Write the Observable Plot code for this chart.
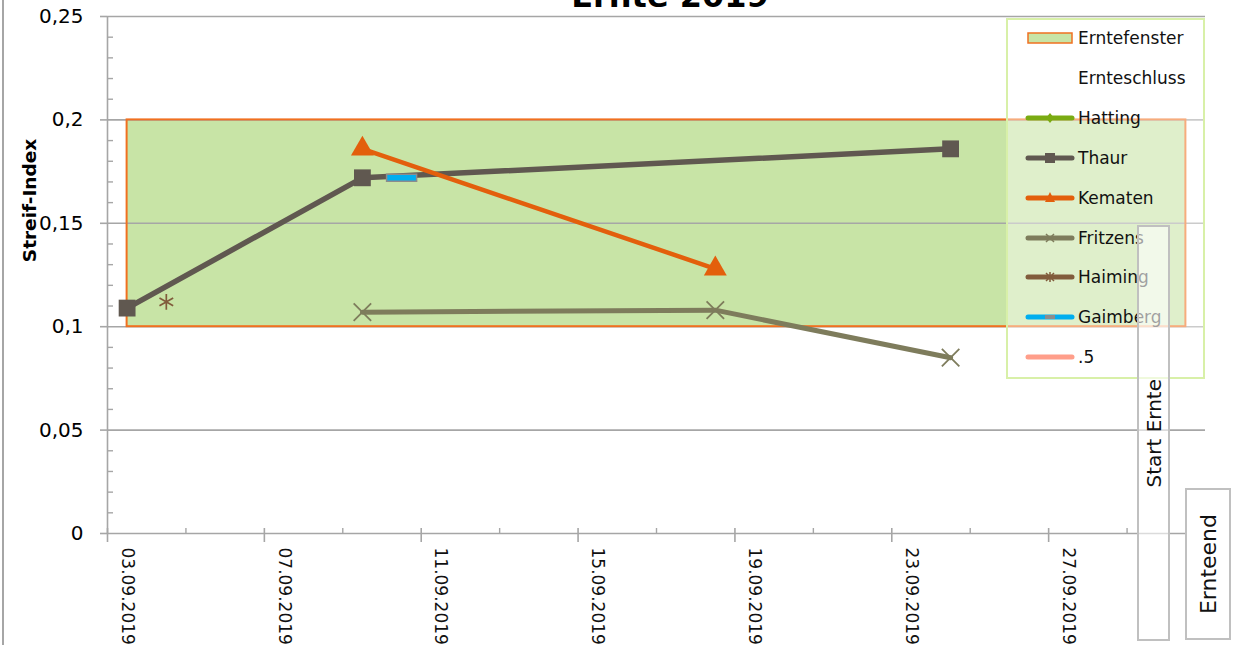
<!DOCTYPE html>
<html><head><meta charset="utf-8">
<script src="https://cdn.jsdelivr.net/npm/d3@7"></script>
<script src="https://cdn.jsdelivr.net/npm/@observablehq/plot@0.6"></script>
<style>
body{margin:0;background:#fff;font-family:"DejaVu Sans",sans-serif;}
#wrap{position:relative;width:1235px;height:645px;overflow:hidden;background:#fff;}
#wrap > svg{position:absolute;left:0;top:0;}
.abs{position:absolute;box-sizing:border-box;}
#legend{left:1006px;top:18px;width:199px;height:361px;border:2px solid #d8f0a8;background:rgba(255,255,255,0.42);}
.lrow{position:absolute;left:0;height:24px;display:flex;align-items:center;font-size:17px;color:#111;white-space:nowrap;}
.lrow svg{display:block;margin-left:17px;margin-right:3px;}
.vbox{border:2px solid #c0c0c0;display:flex;align-items:center;justify-content:center;}
.vtext{writing-mode:vertical-rl;transform:rotate(180deg);white-space:nowrap;color:#111;}
</style></head><body><div id="wrap"></div>
<script>
// ---- data ----
const axisStart = "2019-09-03";
const axisEnd = "2019-10-01";
const yMajor = [0, 0.05, 0.1, 0.15, 0.2, 0.25];
const yMinor = [0.01,0.02,0.03,0.04,0.06,0.07,0.08,0.09,0.11,0.12,0.13,0.14,0.16,0.17,0.18,0.19,0.21,0.22,0.23,0.24];
const xMajorTicks = ["2019-09-03","2019-09-07","2019-09-11","2019-09-15","2019-09-19","2019-09-23","2019-09-27"];
const xMinorTicks = ["2019-09-05","2019-09-09","2019-09-13","2019-09-17","2019-09-21","2019-09-25","2019-09-29"];
const xTickLabels = ["03.09.2019","07.09.2019","11.09.2019","15.09.2019","19.09.2019","23.09.2019","27.09.2019"];

const windowStart = "2019-09-03", windowEnd = "2019-09-30", windowLow = 0.1, windowHigh = 0.2;

const thaurDates = ["2019-09-03","2019-09-09","2019-09-24"];
const thaurValues = [0.109, 0.172, 0.186];
const kematenDates = ["2019-09-09","2019-09-18"];
const kematenValues = [0.186, 0.128];
const fritzensDates = ["2019-09-09","2019-09-18","2019-09-24"];
const fritzensValues = [0.107, 0.108, 0.085];
const haimingDates = ["2019-09-04"];
const haimingValues = [0.112];
const gaimbergDates = ["2019-09-10"];
const gaimbergValues = [0.172];

const legendNames = ["Erntefenster","Ernteschluss","Hatting","Thaur","Kematen","Fritzens","Haiming","Gaimberg",".5"];
const titleText = "Ernte 2019";
const yLabel = "Streif-Index";
const startLabel = "Start Ernte";
const endLabel = "Ernteend";

// ---- helpers ----
const dayStart = s => new Date(s + "T00:00:00Z");
const dayMid = s => new Date(s + "T12:00:00Z");
const rows = (dates, vals) => dates.map((d, i) => ({date: dayMid(d), value: vals[i]}));
const labelFromDate = d3.utcFormat("%d.%m.%Y");

const colors = {
  green: "#c8e4a6", orange: "#f07020", thaur: "#605850", kematen: "#e35f0c",
  fritzens: "#7e7c5c", haiming: "#815c3c", gaimberg: "#00aeef", hatting: "#7aab12", half: "#ff9e8a", grid: "#a6a6a6"
};

const thaur = rows(thaurDates, thaurValues);
const kematen = rows(kematenDates, kematenValues);
const fritzens = rows(fritzensDates, fritzensValues);
const haiming = rows(haimingDates, haimingValues);
const gaimberg = rows(gaimbergDates, gaimbergValues);
const windowRows = [{x1: dayMid(windowStart), x2: dayMid(windowEnd), y1: windowLow, y2: windowHigh}];

const dashSymbol = {draw(ctx) { ctx.moveTo(-15, -3.5); ctx.lineTo(15, -3.5); ctx.lineTo(15, 3.5); ctx.lineTo(-15, 3.5); ctx.closePath(); }};
const fmtY = d => String(d).replace(".", ",");

const chart = Plot.plot({
  width: 1235, height: 645,
  marginLeft: 107, marginRight: 30, marginTop: 16, marginBottom: 112,
  x: {type: "utc", domain: [dayStart(axisStart), dayStart(axisEnd)]},
  y: {domain: [0, 0.25]},
  style: {fontFamily: "DejaVu Sans", color: "#000", background: "transparent", overflow: "visible"},
  marks: [
    Plot.rect(windowRows, {x1: "x1", x2: "x2", y1: "y1", y2: "y2", fill: colors.green}),
    Plot.ruleY(yMajor, {stroke: colors.grid, strokeWidth: 1.6}),
    Plot.rect(windowRows, {x1: "x1", x2: "x2", y1: "y1", y2: "y2", fill: "none", stroke: colors.orange, strokeWidth: 2}),
    Plot.ruleX([dayStart(axisStart)], {stroke: colors.grid, strokeWidth: 1.6}),
    Plot.axisY({ticks: yMajor, tickSize: 7, tickPadding: 17, tickFormat: fmtY, fontSize: 20, stroke: colors.grid, strokeWidth: 1.6, label: null}),
    Plot.axisY({ticks: yMinor, tickSize: 6, dx: 6, tickFormat: () => "", stroke: colors.grid, strokeWidth: 1.4, label: null}),
    Plot.axisX({ticks: xMajorTicks.map(dayStart), tickSize: 14, dy: -5, tickFormat: () => "", stroke: colors.grid, strokeWidth: 1.6, label: null}),
    Plot.axisX({ticks: xMinorTicks.map(dayStart), tickSize: 5, dy: -5, tickFormat: () => "", stroke: colors.grid, strokeWidth: 1.4, label: null}),
    Plot.axisX({ticks: xTickLabels.map(t => { const [dd, mm, yy] = t.split("."); return dayMid(`${yy}-${mm}-${dd}`); }),
      tickSize: 0, tickPadding: 14, tickRotate: 90, tickFormat: labelFromDate, fontSize: 17, fill: "#111", label: null}),
    Plot.line(thaur, {x: "date", y: "value", stroke: colors.thaur, strokeWidth: 5.5}),
    Plot.line(kematen, {x: "date", y: "value", stroke: colors.kematen, strokeWidth: 4.5}),
    Plot.line(fritzens, {x: "date", y: "value", stroke: colors.fritzens, strokeWidth: 5}),
    Plot.dot(thaur, {x: "date", y: "value", symbol: "square", r: 9.5, fill: colors.thaur}),
    Plot.dot(kematen, {x: "date", y: "value", symbol: "triangle", r: 8.5, fill: colors.kematen}),
    Plot.dot(fritzens, {x: "date", y: "value", symbol: "times", r: 8, stroke: colors.fritzens, strokeWidth: 1.8}),
    Plot.dot(haiming, {x: "date", y: "value", symbol: "asterisk", r: 7.5, stroke: colors.haiming, strokeWidth: 1.7}),
    Plot.dot(gaimberg, {x: "date", y: "value", symbol: dashSymbol, fill: colors.gaimberg, stroke: "#8c8c8c", strokeWidth: 1.5}),
    Plot.text([yLabel], {text: d => d, frameAnchor: "top-left", textAnchor: "middle", lineAnchor: "middle", dx: -77, dy: 184, rotate: -90, fontWeight: "bold", fontSize: 18.5, fill: "#000"})
  ]
});

const wrap = document.getElementById("wrap");
wrap.appendChild(chart);

// outer border line
const border = document.createElement("div");
border.className = "abs";
border.style.cssText = "left:2px;top:0;width:2px;height:645px;background:#a6a6a6;";
wrap.appendChild(border);

// title (cut at top, as in the reference)
const title = document.createElement("div");
title.className = "abs";
title.style.cssText = "left:470px;top:-20px;width:400px;text-align:center;font-size:32px;font-weight:bold;line-height:1;color:#000;";
title.textContent = titleText;
wrap.appendChild(title);

// legend
const legend = document.createElement("div");
legend.id = "legend"; legend.className = "abs";
wrap.appendChild(legend);
function swatch(name) {
  const W = 50, H = 16, c = H / 2;
  const line = (col) => `<line x1="3" x2="${W-3}" y1="${c}" y2="${c}" stroke="${col}" stroke-width="5" stroke-linecap="round"/>`;
  let inner = "";
  switch (name) {
    case "Erntefenster": inner = `<rect x="3" y="3" width="44" height="10" fill="${colors.green}" stroke="${colors.orange}" stroke-width="1.5"/>`; break;
    case "Ernteschluss": inner = ""; break;
    case "Hatting": inner = line(colors.hatting) + `<path d="M25,${c-5}L29,${c}L25,${c+5}L21,${c}Z" fill="${colors.hatting}"/>`; break;
    case "Thaur": inner = line(colors.thaur) + `<rect x="20" y="${c-5}" width="10" height="10" fill="${colors.thaur}"/>`; break;
    case "Kematen": inner = line(colors.kematen) + `<path d="M25,${c-6}L30,${c+4}L20,${c+4}Z" fill="${colors.kematen}"/>`; break;
    case "Fritzens": inner = line(colors.fritzens) + `<path d="M21,${c-4}L29,${c+4}M29,${c-4}L21,${c+4}" stroke="${colors.fritzens}" stroke-width="1.5"/>`; break;
    case "Haiming": inner = line(colors.haiming) + `<path d="M21,${c-4}L29,${c+4}M29,${c-4}L21,${c+4}M25,${c-5}L25,${c+5}" stroke="${colors.haiming}" stroke-width="1.5"/>`; break;
    case "Gaimberg": inner = line(colors.gaimberg) + `<rect x="20" y="${c-2}" width="10" height="4" fill="#8c8c8c"/>`; break;
    case ".5": inner = line(colors.half); break;
  }
  return `<svg width="${W}" height="${H}" viewBox="0 0 ${W} ${H}">${inner}</svg>`;
}
legendNames.forEach((name, i) => {
  const row = document.createElement("div");
  row.className = "lrow";
  row.style.top = (6 + i * 39.9) + "px";
  row.innerHTML = swatch(name) + `<span>${name}</span>`;
  legend.appendChild(row);
});

// Start Ernte box
const sBox = document.createElement("div");
sBox.className = "abs vbox";
sBox.style.cssText += "left:1137px;top:225px;width:33px;height:416px;background:rgba(255,255,255,0.6);";
sBox.innerHTML = `<span class="vtext" style="font-size:20px;">${startLabel}</span>`;
wrap.appendChild(sBox);

// Ernteend box
const eBox = document.createElement("div");
eBox.className = "abs vbox";
eBox.style.cssText += "left:1185px;top:488px;width:46px;height:152px;background:#fff;";
eBox.innerHTML = `<span class="vtext" style="font-size:22px;">${endLabel}</span>`;
wrap.appendChild(eBox);
</script></body></html>
